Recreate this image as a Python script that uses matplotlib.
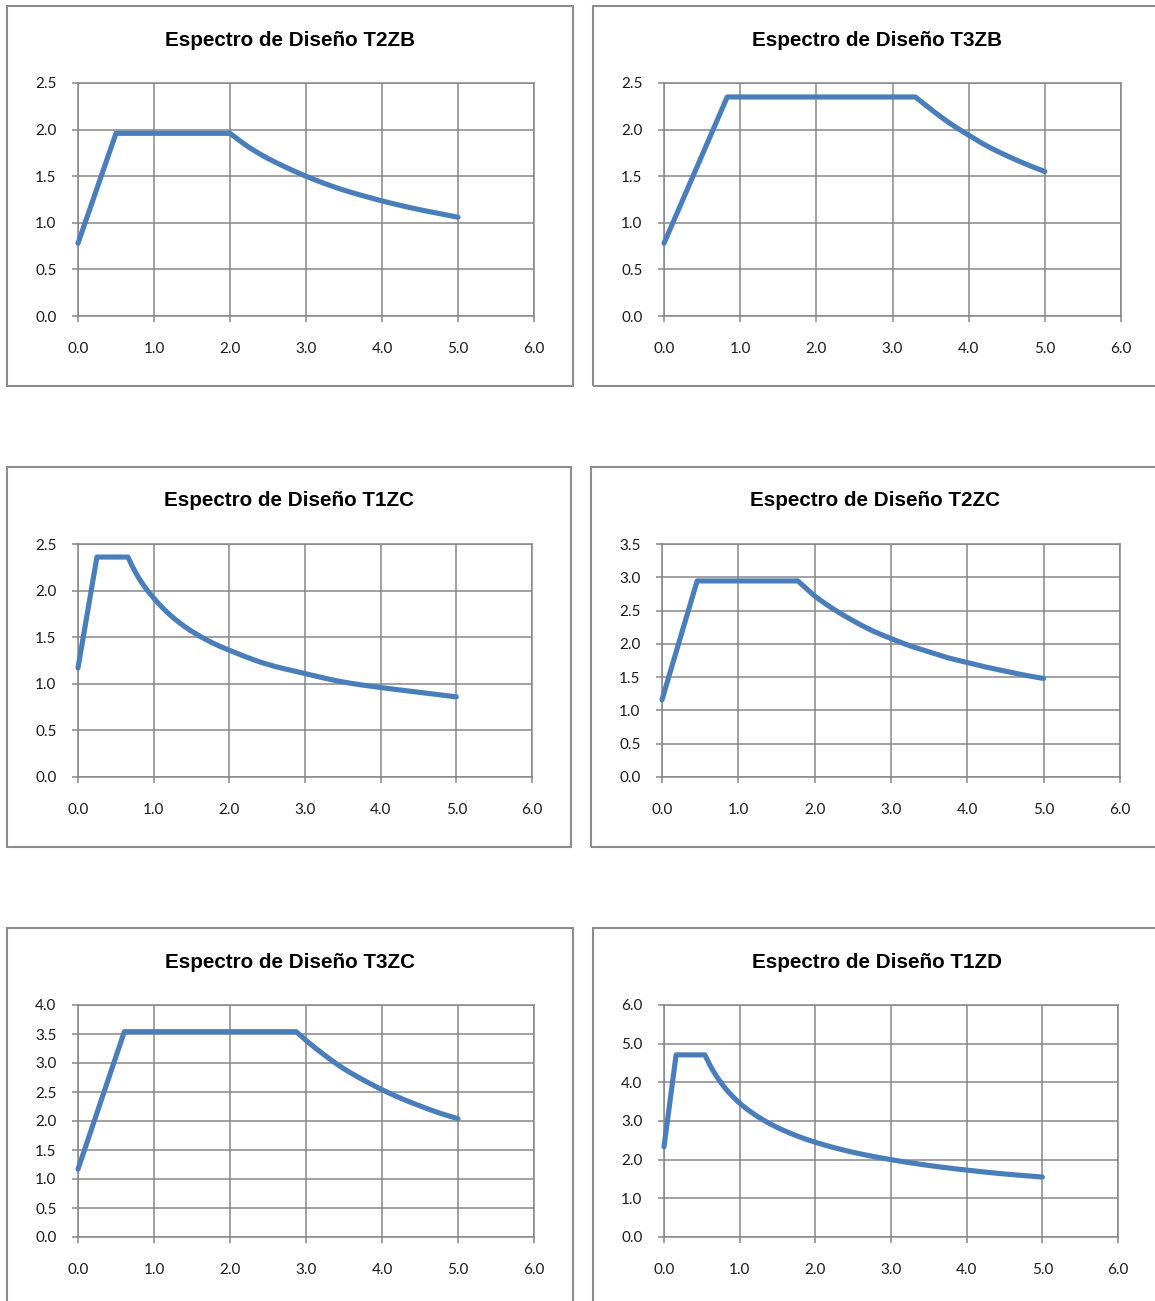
import matplotlib
matplotlib.use("Agg")
import matplotlib.pyplot as plt
import numpy as np
from matplotlib.patches import Rectangle

# Design spectra: period T (s) and spectral acceleration Sa
t2zb_T = [0.0, 0.5, 2.0, 2.25, 2.5, 2.75, 3.0, 3.25, 3.5, 3.75, 4.0, 4.25, 4.5, 4.75, 5.0]
t2zb_Sa = [0.78, 1.96, 1.96, 1.81, 1.69, 1.59, 1.50, 1.42, 1.35, 1.29, 1.235, 1.185, 1.14, 1.10, 1.06]

t3zb_T = [0.0, 0.83, 3.3, 3.5, 3.75, 4.0, 4.25, 4.5, 4.75, 5.0]
t3zb_Sa = [0.78, 2.35, 2.35, 2.22, 2.07, 1.94, 1.82, 1.72, 1.63, 1.55]

t1zc_T = [0.0, 0.25, 0.66, 0.7, 0.8, 0.9, 1.0, 1.1, 1.25, 1.4, 1.5, 1.75, 2.0, 2.5, 3.0, 3.5, 4.0, 4.5, 5.0]
t1zc_Sa = [1.17, 2.36, 2.36, 2.29, 2.14, 2.02, 1.92, 1.83, 1.715, 1.62, 1.565, 1.45, 1.36, 1.21, 1.11, 1.02, 0.96, 0.91, 0.86]

t2zc_T = [0.0, 0.46, 1.78, 1.9, 2.0, 2.25, 2.5, 2.75, 3.0, 3.25, 3.5, 3.75, 4.0, 4.25, 4.5, 4.75, 5.0]
t2zc_Sa = [1.16, 2.945, 2.945, 2.82, 2.72, 2.52, 2.35, 2.20, 2.08, 1.97, 1.88, 1.79, 1.72, 1.65, 1.59, 1.53, 1.48]

t3zc_T = [0.0, 0.61, 2.87, 3.0, 3.25, 3.5, 3.75, 4.0, 4.25, 4.5, 4.75, 5.0]
t3zc_Sa = [1.17, 3.54, 3.54, 3.39, 3.13, 2.90, 2.71, 2.54, 2.39, 2.26, 2.14, 2.04]

t1zd_T = [0.0, 0.16, 0.54, 0.6, 0.7, 0.8, 0.9, 1.0, 1.25, 1.5, 1.75, 2.0, 2.5, 3.0, 3.5, 4.0, 4.5, 5.0]
t1zd_Sa = [2.33, 4.71, 4.71, 4.47, 4.14, 3.87, 3.65, 3.46, 3.10, 2.83, 2.62, 2.45, 2.19, 2.00, 1.85, 1.73, 1.63, 1.55]

titles = ["Espectro de Diseño T2ZB", "Espectro de Diseño T3ZB",
          "Espectro de Diseño T1ZC", "Espectro de Diseño T2ZC",
          "Espectro de Diseño T3ZC", "Espectro de Diseño T1ZD"]
x_ticks = [0.0, 1.0, 2.0, 3.0, 4.0, 5.0, 6.0]
y_tops = [2.5, 2.5, 2.5, 3.5, 4.0, 6.0]
y_steps = [0.5, 0.5, 0.5, 0.5, 0.5, 1.0]
series = [(t2zb_T, t2zb_Sa), (t3zb_T, t3zb_Sa), (t1zc_T, t1zc_Sa),
          (t2zc_T, t2zc_Sa), (t3zc_T, t3zc_Sa), (t1zd_T, t1zd_Sa)]


def pchip(x, y, n=20):
    """Monotone cubic (Fritsch-Carlson) interpolation through x, y."""
    x = np.asarray(x, float)
    y = np.asarray(y, float)
    h = np.diff(x)
    d = np.diff(y) / h
    m = np.zeros_like(y)
    for k in range(1, len(y) - 1):
        if d[k - 1] * d[k] > 0:
            w1 = 2 * h[k] + h[k - 1]
            w2 = h[k] + 2 * h[k - 1]
            m[k] = (w1 + w2) / (w1 / d[k - 1] + w2 / d[k])
    m[0] = d[0]
    m[-1] = d[-1]
    xs, ys = [], []
    for k in range(len(h)):
        t = np.linspace(0, 1, n, endpoint=(k == len(h) - 1))
        h00 = 2 * t**3 - 3 * t**2 + 1
        h10 = t**3 - 2 * t**2 + t
        h01 = -2 * t**3 + 3 * t**2
        h11 = t**3 - t**2
        xs.append(x[k] + t * h[k])
        ys.append(h00 * y[k] + h10 * h[k] * m[k] + h01 * y[k + 1] + h11 * h[k] * m[k + 1])
    return np.concatenate(xs), np.concatenate(ys)


W, H = 1155, 1301
fig = plt.figure(figsize=(W / 100, H / 100), dpi=100)
fig.patch.set_facecolor("white")

# layout in pixels: chart frame (l, t, r, b) and plot area (l, t, r, b)
frames = [(7, 6, 573, 386), (593, 6, 1161, 386),
          (7, 467, 571, 847), (591, 467, 1159, 847),
          (7, 928, 573, 1310), (593, 928, 1161, 1310)]
plots = [(78, 83, 534, 316), (664, 83, 1121, 316),
         (78, 544, 532, 777), (662, 544, 1120, 777),
         (78, 1005, 534, 1237), (664, 1005, 1118, 1237)]

GRID = "#878787"
FRAME = "#8c8c8c"
LINE = "#4a7ebb"
tick_font = "Lato"
title_font = "Liberation Sans"

for i in range(6):
    fl, ft, fr, fb = frames[i]
    fig.patches.append(Rectangle((fl / W, 1 - fb / H), (fr - fl) / W, (fb - ft) / H,
                                 transform=fig.transFigure, fill=False,
                                 edgecolor=FRAME, linewidth=1.5))
    pl, pt, pr, pb = plots[i]
    ax = fig.add_axes([pl / W, 1 - pb / H, (pr - pl) / W, (pb - pt) / H])
    T, Sa = series[i]
    # straight rise and plateau, smooth descending branch
    xd, yd = pchip(T[2:], Sa[2:])
    xs = np.concatenate([T[:2], xd])
    ys = np.concatenate([Sa[:2], yd])
    ax.plot(xs, ys, color=LINE, linewidth=3.7, solid_joinstyle="round",
            solid_capstyle="round", zorder=3, clip_on=False)
    ax.set_xlim(0, 6)
    ax.set_ylim(0, y_tops[i])
    n = int(round(y_tops[i] / y_steps[i]))
    yt = [k * y_steps[i] for k in range(n + 1)]
    ax.set_xticks(x_ticks)
    ax.set_yticks(yt)
    ax.set_xticklabels([f"{v:.1f}" for v in x_ticks], fontfamily=tick_font, fontsize=11)
    ax.set_yticklabels([f"{v:.1f}" for v in yt], fontfamily=tick_font, fontsize=11)
    ax.grid(True, color=GRID, linewidth=1.1)
    ax.set_axisbelow(True)
    for s in ax.spines.values():
        s.set_color(GRID)
        s.set_linewidth(1.1)
    ax.tick_params(axis="both", direction="out", length=4.5, width=1.1, color=GRID,
                   labelcolor="#1a1a1a")
    ax.tick_params(axis="y", pad=11)
    ax.tick_params(axis="x", pad=14)
    fig.text(((fl + fr) / 2) / W, 1 - (40 + ft - 6) / H, titles[i],
             ha="center", va="center", fontfamily=title_font, fontweight="bold",
             fontsize=14.9, color="black")

fig.savefig("out.png", dpi=100, facecolor="white")
